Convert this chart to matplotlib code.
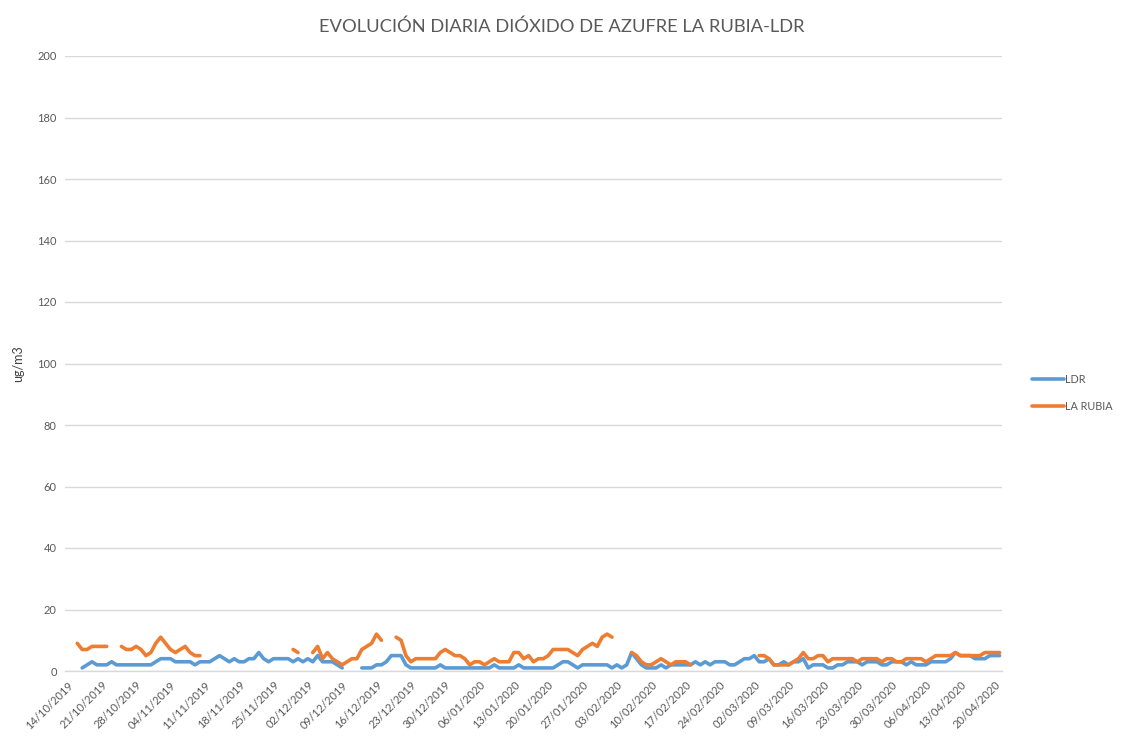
import numpy as np
import pandas as pd
import matplotlib
matplotlib.use("Agg")
import matplotlib.pyplot as plt

nan = np.nan
dates = pd.date_range("2019-10-14", "2020-04-21", freq="D")

ldr = [nan, nan, nan, 1, 2, 3, 2, 2, 2, 3,
       2, 2, 2, 2, 2, 2, 2, 2, 3, 4,
       4, 4, 3, 3, 3, 3, 2, 3, 3, 3,
       4, 5, 4, 3, 4, 3, 3, 4, 4, 6,
       4, 3, 4, 4, 4, 4, 3, 4, 3, 4,
       3, 5, 3, 3, 3, 2, 1, nan, nan, nan,
       1, 1, 1, 2, 2, 3, 5, 5, 5, 2,
       1, 1, 1, 1, 1, 1, 2, 1, 1, 1,
       1, 1, 1, 1, 1, 1, 1, 2, 1, 1,
       1, 1, 2, 1, 1, 1, 1, 1, 1, 1,
       2, 3, 3, 2, 1, 2, 2, 2, 2, 2,
       2, 1, 2, 1, 2, 6, 4, 2, 1, 1,
       1, 2, 1, 2, 2, 2, 2, 2, 3, 2,
       3, 2, 3, 3, 3, 2, 2, 3, 4, 4,
       5, 3, 3, 4, 2, 2, 3, 2, 3, 3,
       4, 1, 2, 2, 2, 1, 1, 2, 2, 3,
       3, 3, 2, 3, 3, 3, 2, 2, 3, 3,
       3, 2, 3, 2, 2, 2, 3, 3, 3, 3,
       4, 6, 5, 5, 5, 4, 4, 4, 5, 5,
       5]

la_rubia = [nan, nan, 9, 7, 7, 8, 8, 8, 8, nan,
            nan, 8, 7, 7, 8, 7, 5, 6, 9, 11,
            9, 7, 6, 7, 8, 6, 5, 5, nan, nan,
            nan, nan, nan, nan, nan, nan, nan, nan, nan, nan,
            nan, nan, nan, nan, nan, nan, 7, 6, nan, nan,
            6, 8, 4, 6, 4, 3, 2, 3, 4, 4,
            7, 8, 9, 12, 10, nan, nan, 11, 10, 5,
            3, 4, 4, 4, 4, 4, 6, 7, 6, 5,
            5, 4, 2, 3, 3, 2, 3, 4, 3, 3,
            3, 6, 6, 4, 5, 3, 4, 4, 5, 7,
            7, 7, 7, 6, 5, 7, 8, 9, 8, 11,
            12, 11, nan, nan, nan, 6, 5, 3, 2, 2,
            3, 4, 3, 2, 3, 3, 3, 2, nan, nan,
            nan, nan, nan, nan, nan, nan, nan, nan, nan, nan,
            nan, 5, 5, 4, 2, 2, 2, 2, 3, 4,
            6, 4, 4, 5, 5, 3, 4, 4, 4, 4,
            4, 3, 4, 4, 4, 4, 3, 4, 4, 3,
            3, 4, 4, 4, 4, 3, 4, 5, 5, 5,
            5, 6, 5, 5, 5, 5, 5, 6, 6, 6,
            6]

series_names = ["LDR", "LA RUBIA"]
colors = ["#5B9BD5", "#ED7D31"]
title = "EVOLUCIÓN DIARIA DIÓXIDO DE AZUFRE LA RUBIA-LDR"
ylabel = "ug/m3"
yticks = list(range(0, 201, 20))

plt.rcParams['font.family'] = ['Lato', 'DejaVu Sans']
fig = plt.figure(figsize=(11.22, 7.38), dpi=100)
ax = fig.add_axes([65/1122, 1 - 671/738, (1002 - 65)/1122, (671 - 56)/738])

x = np.arange(len(dates))
for vals, name, c in zip([ldr, la_rubia], series_names, colors):
    ax.plot(x, vals, color=c, lw=2.6, label=name, solid_capstyle='round', solid_joinstyle='round')

ax.set_xlim(-0.5, len(dates) - 0.5)
ax.set_ylim(0, 200)
ax.set_yticks(yticks)
ax.set_yticklabels([str(t) for t in yticks], color="#595959", fontsize=8)
ax.grid(axis='y', color="#D9D9D9", lw=1)
ax.set_axisbelow(True)
for s in ['top', 'right', 'left']:
    ax.spines[s].set_visible(False)
ax.spines['bottom'].set_color("#D9D9D9")
ax.spines['bottom'].set_linewidth(1)

tick_idx = list(range(0, len(dates), 7))
ax.set_xticks(tick_idx)
ax.set_xticklabels([dates[i].strftime("%d/%m/%Y") for i in tick_idx], rotation=45,
                   ha='right', rotation_mode='anchor', color="#595959", fontsize=8)
ax.tick_params(axis='both', length=0, pad=6)

ax.set_ylabel(ylabel, color="#404040", fontsize=9)
ax.yaxis.set_label_coords(-0.044, 0.5)

fig.text(562/1122, 1 - 27/738, title, ha='center', va='center', fontsize=13.2, color="#595959")

leg = fig.legend(loc='center left', bbox_to_anchor=(1024/1122, 1 - 393/738), frameon=False,
                 fontsize=7.8, handlelength=3.0, labelspacing=1.5, handletextpad=0.1,
                 borderpad=0.2)
for t in leg.get_texts():
    t.set_color("#595959")

fig.savefig("out.png", dpi=100)
